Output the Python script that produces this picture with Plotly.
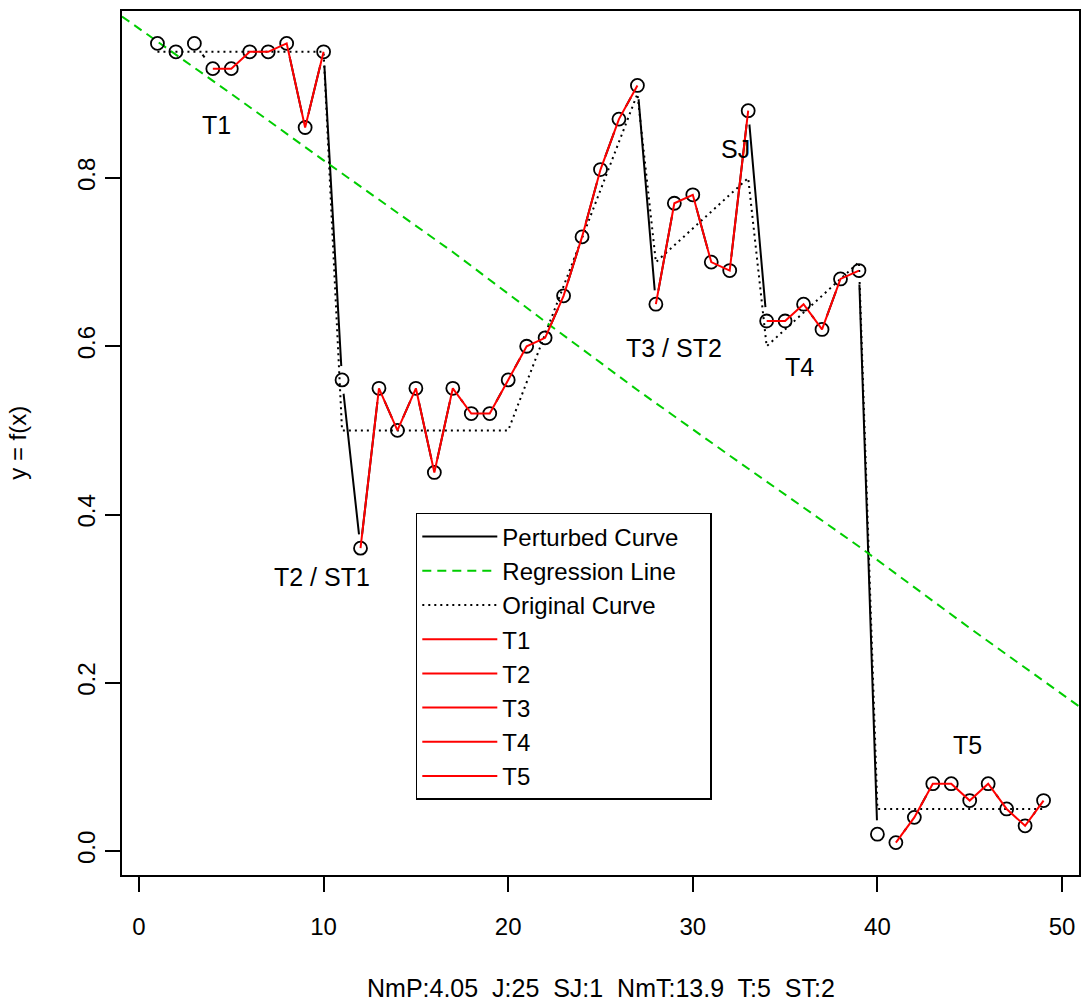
import plotly.graph_objects as go

# Gestörte Kurve (Messpunkte)
x_pts = list(range(1, 50))
y_pts = [0.96, 0.95, 0.96, 0.93, 0.93, 0.95, 0.95, 0.96, 0.86, 0.95,
         0.56, 0.36, 0.55, 0.50, 0.55, 0.45, 0.55, 0.52, 0.52, 0.56,
         0.60, 0.61, 0.66, 0.73, 0.81, 0.87, 0.91, 0.65, 0.77, 0.78,
         0.70, 0.69, 0.88, 0.63, 0.63, 0.65, 0.62, 0.68, 0.69, 0.02,
         0.01, 0.04, 0.08, 0.08, 0.06, 0.08, 0.05, 0.03, 0.06]

# Originalkurve
orig_x = [1, 10, 11, 20, 27, 28, 33, 34, 39, 40, 49]
orig_y = [0.95, 0.95, 0.50, 0.50, 0.90, 0.70, 0.80, 0.60, 0.70, 0.05, 0.05]

# Regressionslinie
reg_x = [-0.92, 5, 10, 13, 17, 22.2, 27, 32, 39, 45, 50.92]
reg_y = [0.992, 0.900, 0.821, 0.774, 0.712, 0.626, 0.548, 0.470, 0.362, 0.265, 0.172]

# Trends: Start- und End-x
trends = {"T1": (4, 10), "T2": (12, 27), "T3": (28, 33), "T4": (34, 39), "T5": (41, 49)}

labels = [("T1", 4.2, 0.863), ("T2 / ST1", 9.9, 0.326), ("T3 / ST2", 29.0, 0.598),
          ("SJ", 32.3, 0.834), ("T4", 35.8, 0.575), ("T5", 44.9, 0.126)]

x_ticks = [0, 10, 20, 30, 40, 50]
y_ticks = [0.0, 0.2, 0.4, 0.6, 0.8]

FONT = "Liberation Sans, Arial, sans-serif"
PAD = "\u00a0" * 4  # etwas Luft rechts in der Legende

fig = go.Figure()

fig.add_trace(go.Scatter(x=x_pts, y=y_pts, mode="lines", name="Perturbed Curve" + PAD,
                         line=dict(color="black", width=2), legendrank=1))
# weiße Scheiben -> Lücken um die Punkte wie bei R type="b"
fig.add_trace(go.Scatter(x=x_pts, y=y_pts, mode="markers", showlegend=False, hoverinfo="skip",
                         marker=dict(symbol="circle", size=28, color="white", line=dict(width=0))))
fig.add_trace(go.Scatter(x=orig_x, y=orig_y, mode="lines", name="Original Curve",
                         line=dict(color="black", width=2, dash="2px,4px"), legendrank=3))
fig.add_trace(go.Scatter(x=reg_x, y=reg_y, mode="lines", name="Regression Line" + PAD,
                         line=dict(color="#00cd00", width=2, dash="9px,6px"), legendrank=2))
fig.add_trace(go.Scatter(x=x_pts, y=y_pts, mode="markers", showlegend=False,
                         marker=dict(symbol="circle-open", size=13, color="black",
                                     line=dict(color="black", width=1.8))))

for i, (name, (a, b)) in enumerate(trends.items()):
    xs = x_pts[a - 1:b]
    ys = y_pts[a - 1:b]
    fig.add_trace(go.Scatter(x=xs, y=ys, mode="lines", name=name,
                             line=dict(color="red", width=2), legendrank=4 + i))

for text, lx, ly in labels:
    fig.add_annotation(x=lx, y=ly, text=text, showarrow=False,
                       font=dict(size=25, color="black", family=FONT))

fig.add_annotation(xref="paper", yref="paper", x=0.5, y=-0.131, xanchor="center", yanchor="middle",
                   text="NmP:4.05  J:25  SJ:1  NmT:13.9  T:5  ST:2", showarrow=False,
                   font=dict(size=25, color="black", family=FONT))
fig.add_annotation(xref="paper", yref="paper", x=-0.11, y=0.5, textangle=-90,
                   xanchor="center", yanchor="middle",
                   text="y = f(x)", showarrow=False,
                   font=dict(size=24, color="black", family=FONT))

fig.update_layout(
    width=1081, height=1003,
    margin=dict(l=122, r=2, t=11, b=128, autoexpand=False),
    paper_bgcolor="white", plot_bgcolor="white",
    font=dict(family=FONT, size=24, color="black"),
    legend=dict(x=0.307, y=0.419, xanchor="left", yanchor="top",
                bgcolor="white", bordercolor="black", borderwidth=1.5,
                itemwidth=75, font=dict(size=24)),
)
fig.update_xaxes(range=[-0.92, 50.92], tickvals=x_ticks, ticks="outside", ticklen=15,
                 tickwidth=1.5, tickcolor="black", showgrid=False, zeroline=False,
                 showline=True, linecolor="black", linewidth=2, mirror=True,
                 ticklabelstandoff=14, automargin=False)
fig.update_yaxes(range=[-0.0285, 0.9985], tickvals=y_ticks, ticktext=["0.0", "0.2", "0.4", "0.6", "0.8"],
                 ticks="outside", ticklen=15, tickwidth=1.5, tickcolor="black",
                 showgrid=False, zeroline=False, showline=True, linecolor="black",
                 linewidth=2, mirror=True, tickangle=-90, ticklabelstandoff=0,
                 automargin=False)

# Seitenrand entfernen, damit die Grafik genau ins Fenster passt
fig.write_html("out.html", config={"displayModeBar": False},
               post_script="document.body.style.margin='0';document.body.style.overflow='hidden';")
